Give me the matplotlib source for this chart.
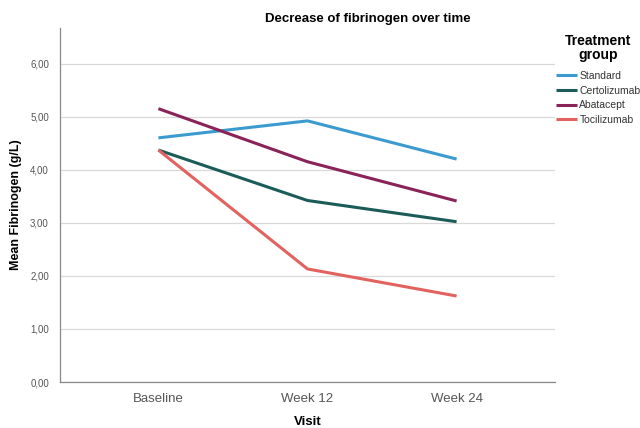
import matplotlib
matplotlib.use("Agg")
import matplotlib.pyplot as plt
from matplotlib.ticker import FuncFormatter, MultipleLocator

plt.rcParams["font.family"] = ["Liberation Sans", "DejaVu Sans"]

visits = ["Baseline", "Week 12", "Week 24"]
groups = ["Standard", "Certolizumab", "Abatacept", "Tocilizumab"]
standard = [4.60, 4.92, 4.20]
certolizumab = [4.37, 3.42, 3.02]
abatacept = [5.15, 4.15, 3.41]
tocilizumab = [4.37, 2.13, 1.62]
colors = ["#3b9bd0", "#1c5c58", "#8a2458", "#e2625f"]

fig = plt.figure(figsize=(6.4, 4.28), dpi=100)
ax = fig.add_axes([60/640, 1-382/428, (555-60)/640, (382-28)/428])

x = list(range(len(visits)))
for vals, name, c in zip([standard, certolizumab, abatacept, tocilizumab], groups, colors):
    ax.plot(x, vals, color=c, lw=2.2, label=name, solid_capstyle="butt")

ax.set_xlim(-0.66, 2.66)
ax.set_ylim(0, 6.67)
ax.yaxis.set_major_locator(MultipleLocator(1))
ax.yaxis.set_major_formatter(FuncFormatter(lambda v, p: f"{v:.2f}".replace(".", ",")))
ax.set_xticks(x)
ax.set_xticklabels(visits)
ax.tick_params(axis="both", length=0, colors="#555555")
ax.tick_params(axis="y", labelsize=7, pad=8)
ax.tick_params(axis="x", labelsize=9.5, pad=8)
ax.grid(axis="y", color="#d9d9d9", lw=0.9)
ax.set_axisbelow(True)
for s in ["top", "right"]:
    ax.spines[s].set_visible(False)
for s in ["left", "bottom"]:
    ax.spines[s].set_color("#888888")
    ax.spines[s].set_linewidth(0.9)

ax.set_xlabel("Visit", fontsize=9.5, fontweight="bold", labelpad=7.5)
ax.set_ylabel("Mean Fibrinogen (g/L)", fontsize=9, fontweight="bold", labelpad=6)
fig.text(368/640, 1-19/428, "Decrease of fibrinogen over time", ha="center", va="center",
         fontsize=9.5, fontweight="bold")

fig.text(598/640, 1-48/428, "Treatment\ngroup", ha="center", va="center",
         fontsize=10, fontweight="bold", linespacing=1.0)
leg = fig.legend(loc="upper left", bbox_to_anchor=(556/640, 1-71/428), frameon=False,
                 fontsize=7.5, handlelength=2.0, handletextpad=0.25,
                 labelspacing=0.45, borderaxespad=0, borderpad=0)
for t in leg.get_texts():
    t.set_color("#333333")

fig.savefig("out.png", dpi=100)
